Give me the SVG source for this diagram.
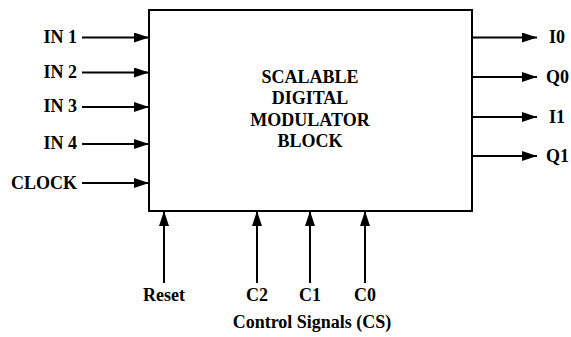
<svg xmlns="http://www.w3.org/2000/svg" width="571" height="337" viewBox="0 0 571 337">
<style>
text{font-family:"Liberation Serif","Times New Roman","DejaVu Serif",serif;font-weight:bold;font-size:18px;fill:#000}
.ln{stroke:#000;stroke-width:2;fill:none}
</style>
<defs>
<marker id="ah" viewBox="0 0 15 10" refX="15" refY="5" markerWidth="15" markerHeight="10" markerUnits="userSpaceOnUse" orient="auto">
<path d="M0,0 L15,5 L0,10 Z" fill="#000"/>
</marker>
</defs>
<rect width="571" height="337" fill="#fff"/>
<g id="block">
<rect x="149" y="10" width="323" height="201" class="ln"/>
<text x="310" y="83" text-anchor="middle">SCALABLE</text>
<text x="310" y="104" text-anchor="middle">DIGITAL</text>
<text x="310" y="126" text-anchor="middle">MODULATOR</text>
<text x="310" y="147" text-anchor="middle">BLOCK</text>
</g>
<g id="labels">
<text x="77" y="43" text-anchor="end">IN 1</text>
<text x="77" y="78" text-anchor="end">IN 2</text>
<text x="77" y="112" text-anchor="end">IN 3</text>
<text x="77" y="149" text-anchor="end">IN 4</text>
<text x="77" y="189" text-anchor="end">CLOCK</text>
<text x="549" y="43">I0</text>
<text x="546" y="83">Q0</text>
<text x="549" y="123">I1</text>
<text x="546" y="162">Q1</text>
<text x="164" y="301" text-anchor="middle">Reset</text>
<text x="257" y="301" text-anchor="middle">C2</text>
<text x="310" y="301" text-anchor="middle">C1</text>
<text x="365" y="301" text-anchor="middle">C0</text>
<text x="312" y="328" text-anchor="middle">Control Signals (CS)</text>
</g>
<g id="connectors" class="ln" marker-end="url(#ah)">
<line x1="82" y1="37.5" x2="149" y2="37.5"/>
<line x1="82" y1="72.5" x2="149" y2="72.5"/>
<line x1="82" y1="107" x2="149" y2="107"/>
<line x1="82" y1="144" x2="149" y2="144"/>
<line x1="82" y1="183" x2="149" y2="183"/>
<line x1="472" y1="37.5" x2="537" y2="37.5"/>
<line x1="472" y1="77" x2="537" y2="77"/>
<line x1="472" y1="117" x2="537" y2="117"/>
<line x1="472" y1="156" x2="537" y2="156"/>
<line x1="164" y1="283" x2="164" y2="211"/>
<line x1="257" y1="283" x2="257" y2="211"/>
<line x1="310" y1="283" x2="310" y2="211"/>
<line x1="365" y1="283" x2="365" y2="211"/>
</g>
</svg>
